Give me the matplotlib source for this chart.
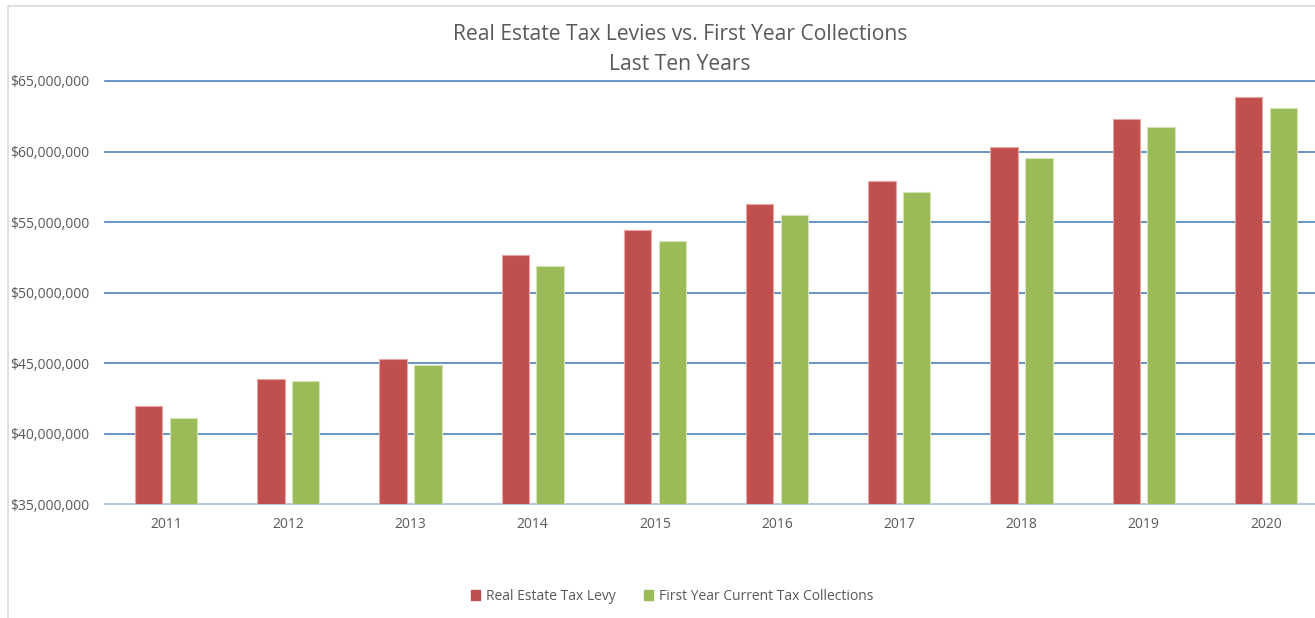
import matplotlib.pyplot as plt
import matplotlib.patches as mpatches
from matplotlib.ticker import FuncFormatter

# Dados do grafico
anos = ["2011", "2012", "2013", "2014", "2015", "2016", "2017", "2018", "2019", "2020"]
levy = [41.95e6, 43.85e6, 45.3e6, 52.65e6, 54.45e6, 56.25e6, 57.9e6, 60.35e6, 62.3e6, 63.9e6]
coletas = [41.1e6, 43.75e6, 44.85e6, 51.85e6, 53.65e6, 55.5e6, 57.15e6, 59.55e6, 61.75e6, 63.1e6]
nomes = ["Real Estate Tax Levy", "First Year Current Tax Collections"]

cor_levy = "#C0504D"
cor_col = "#9BBB59"
cinza = "#595959"

plt.rcParams['font.family'] = ['Open Sans', 'DejaVu Sans']

fig = plt.figure(figsize=(13.15, 6.18), dpi=100)
# moldura do grafico (cortada a direita)
fig.patches.append(mpatches.Rectangle((8 / 1315, -0.1), 1.2, 1 - 6 / 618 + 0.1,
                                      transform=fig.transFigure, fill=False,
                                      edgecolor="#D9D9D9", linewidth=1.2))

ax = fig.add_axes([105 / 1315, 1 - 504 / 618, 1222 / 1315, 423 / 618])
x = list(range(len(anos)))
w = 0.225
ax.bar([i - 0.142 for i in x], levy, w, color=cor_levy, edgecolor="#E8A5A3",
       linewidth=0.8, zorder=3)
ax.bar([i + 0.142 for i in x], coletas, w, color=cor_col, edgecolor="#D3E3B5",
       linewidth=0.8, zorder=3)

ax.set_ylim(35e6, 65e6)
ax.set_xlim(-0.5, 9.5)
ax.set_yticks([35e6 + 5e6 * k for k in range(7)])
ax.yaxis.set_major_formatter(FuncFormatter(lambda v, p: "${:,.0f}".format(v)))
ax.set_xticks(x)
ax.set_xticklabels(anos)
ax.tick_params(axis="both", length=0, labelsize=10, colors=cinza)
ax.tick_params(axis="y", pad=11)
ax.tick_params(axis="x", pad=9)
ax.grid(axis="y", color="#4F81BD", linewidth=1.2, zorder=0)
for g in ax.get_ygridlines():
    g.set_clip_on(False)
ax.get_ygridlines()[0].set_visible(False)  # base fica com a linha do eixo
for s in ["top", "right", "left"]:
    ax.spines[s].set_visible(False)
ax.spines["bottom"].set_color("#A6BEDD")
ax.spines["bottom"].set_linewidth(1.2)
ax.spines["bottom"].set_zorder(1)

fig.text(680 / 1315, 1 - 34 / 618, "Real Estate Tax Levies vs. First Year Collections",
         ha="center", va="center", fontsize=15.2, color=cinza)
fig.text(680 / 1315, 1 - 64 / 618, "Last Ten Years",
         ha="center", va="center", fontsize=15.2, color=cinza)

handles = [mpatches.Patch(color=cor_levy, label=nomes[0]),
           mpatches.Patch(color=cor_col, label=nomes[1])]
leg = fig.legend(handles=handles, loc="center", bbox_to_anchor=(672 / 1315, 1 - 596 / 618),
                 ncol=2, frameon=False, fontsize=10, handlelength=0.7, handleheight=0.7,
                 columnspacing=2.0, handletextpad=0.4)
for t in leg.get_texts():
    t.set_color(cinza)

plt.savefig("out.png", dpi=100)
